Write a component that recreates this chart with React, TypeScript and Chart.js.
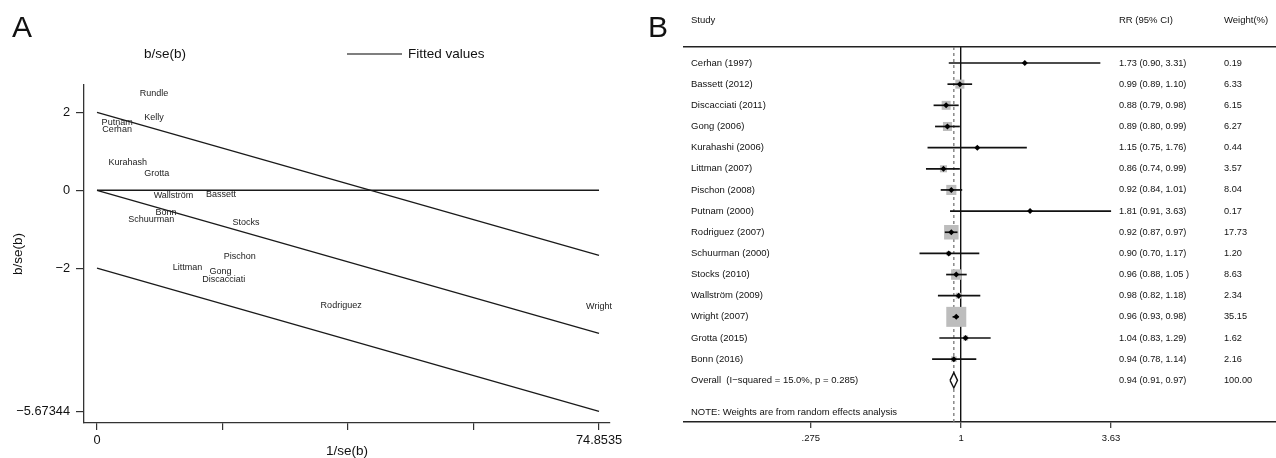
import React, { useEffect, useRef } from "react";
import { Chart, registerables } from "chart.js";

Chart.register(...registerables);

const FONT = "'Liberation Sans', Arial, sans-serif";

// ---------------- Panel A: Galbraith plot ----------------
const galbraithLabels = [
  "Rundle", "Kelly", "Putnam", "Cerhan", "Kurahash", "Grotta", "Wallström", "Bassett",
  "Bonn", "Schuurman", "Stocks", "Pischon", "Littman", "Gong", "Discacciati", "Rodriguez", "Wright",
];
// 1/se(b)
const galbraithPrecision = [8.5, 8.5, 3.0, 3.0, 4.6, 8.9, 11.4, 18.5, 10.3, 8.1, 22.2, 21.3, 13.5, 18.4, 18.9, 36.4, 74.8535];
// b/se(b)
const galbraithZ = [2.49, 1.86, 1.75, 1.57, 0.71, 0.42, -0.14, -0.11, -0.57, -0.74, -0.84, -1.70, -1.97, -2.09, -2.30, -2.95, -2.99];
const precisionMax = 74.8535;
const fittedAtMax = -3.67344;
const bandOffsets = [2, -2];
const yTickValuesA = [2, 0, -2, -5.67344];
const yTickLabelsA = ["2", "0", "\u22122", "\u22125.67344"];
const xTickValuesA = [0, 18.7134, 37.4268, 56.1401, 74.8535];
const xTickLabelsA = ["0", "", "", "", "74.8535"];

// ---------------- Panel B: forest plot ----------------
const studyNames = [
  "Cerhan (1997)", "Bassett (2012)", "Discacciati (2011)", "Gong (2006)", "Kurahashi (2006)",
  "Littman (2007)", "Pischon (2008)", "Putnam (2000)", "Rodriguez (2007)", "Schuurman (2000)",
  "Stocks (2010)", "Wallström (2009)", "Wright (2007)", "Grotta (2015)", "Bonn (2016)",
];
const rrValues = [1.73, 0.99, 0.88, 0.89, 1.15, 0.86, 0.92, 1.81, 0.92, 0.90, 0.96, 0.98, 0.96, 1.04, 0.94];
const ciLower = [0.90, 0.89, 0.79, 0.80, 0.75, 0.74, 0.84, 0.91, 0.87, 0.70, 0.88, 0.82, 0.93, 0.83, 0.78];
const ciUpper = [3.31, 1.10, 0.98, 0.99, 1.76, 0.99, 1.01, 3.63, 0.97, 1.17, 1.05, 1.18, 0.98, 1.29, 1.14];
const weightPct = [0.19, 6.33, 6.15, 6.27, 0.44, 3.57, 8.04, 0.17, 17.73, 1.20, 8.63, 2.34, 35.15, 1.62, 2.16];
const ciLabels = [
  "1.73 (0.90, 3.31)", "0.99 (0.89, 1.10)", "0.88 (0.79, 0.98)", "0.89 (0.80, 0.99)", "1.15 (0.75, 1.76)",
  "0.86 (0.74, 0.99)", "0.92 (0.84, 1.01)", "1.81 (0.91, 3.63)", "0.92 (0.87, 0.97)", "0.90 (0.70, 1.17)",
  "0.96 (0.88, 1.05 )", "0.98 (0.82, 1.18)", "0.96 (0.93, 0.98)", "1.04 (0.83, 1.29)", "0.94 (0.78, 1.14)",
];
const overallRR = 0.94;
const overallLower = 0.91;
const overallUpper = 0.97;
const overallCiLabel = "0.94 (0.91, 0.97)";
const overallWeight = 100.0;
const overallText = "Overall  (I\u2212squared = 15.0%, p = 0.285)";
const noteText = "NOTE: Weights are from random effects analysis";
const headerTexts = ["Study", "RR (95% CI)", "Weight(%)"];
const xTickValuesB = [0.275, 1, 3.63];
const xTickLabelsB = [".275", "1", "3.63"];

export default function App() {
  const refA = useRef<HTMLCanvasElement | null>(null);
  const refB = useRef<HTMLCanvasElement | null>(null);

  useEffect(() => {
    // ---------- Chart A ----------
    const labelPlugin = {
      id: "galbraithLabels",
      afterDatasetsDraw(chart: any) {
        const ctx = chart.ctx;
        const meta = chart.getDatasetMeta(0);
        ctx.save();
        ctx.font = `9px ${FONT}`;
        ctx.textAlign = "center";
        ctx.textBaseline = "middle";
        ctx.fillStyle = "#222";
        meta.data.forEach((el: any, i: number) => ctx.fillText(galbraithLabels[i], el.x, el.y));
        ctx.restore();
      },
      afterDraw(chart: any) {
        const ctx = chart.ctx;
        ctx.save();
        ctx.fillStyle = "#111";
        ctx.textBaseline = "alphabetic";
        ctx.textAlign = "left";
        ctx.font = `30px ${FONT}`;
        ctx.fillText("A", 12, 37);
        ctx.font = `13.5px ${FONT}`;
        ctx.textBaseline = "middle";
        ctx.fillText("b/se(b)", 144, 54);
        ctx.fillText("Fitted values", 408, 54);
        ctx.strokeStyle = "#555";
        ctx.lineWidth = 1.5;
        ctx.beginPath();
        ctx.moveTo(347, 54);
        ctx.lineTo(402, 54);
        ctx.stroke();
        ctx.restore();
      },
    };

    const lineStyle = {
      showLine: true,
      pointRadius: 0,
      borderColor: "#1a1a1a",
      borderWidth: 1.3,
      fill: false,
    };

    const dsA: any[] = [
      {
        label: "b/se(b)",
        data: galbraithPrecision.map((x, i) => ({ x, y: galbraithZ[i] })),
        pointRadius: 0,
        showLine: false,
      },
      { label: "zero", data: [{ x: 0, y: 0 }, { x: precisionMax, y: 0 }], ...lineStyle },
      { label: "Fitted values", data: [{ x: 0, y: 0 }, { x: precisionMax, y: fittedAtMax }], ...lineStyle },
      ...bandOffsets.map((off) => ({
        label: "band" + off,
        data: [{ x: 0, y: off }, { x: precisionMax, y: fittedAtMax + off }],
        ...lineStyle,
      })),
    ];

    const zeroPad = (s: any) => {
      s.paddingLeft = 0;
      s.paddingRight = 0;
      s.paddingTop = 0;
      s.paddingBottom = 0;
    };

    const chartA = new Chart(refA.current as HTMLCanvasElement, {
      type: "scatter",
      data: { datasets: dsA },
      plugins: [labelPlugin],
      options: {
        animation: false,
        responsive: false,
        events: [],
        layout: { autoPadding: false, padding: { left: 0, top: 85, right: 30, bottom: 0 } } as any,
        plugins: { legend: { display: false }, tooltip: { enabled: false } },
        scales: {
          x: {
            type: "linear",
            min: -1.94,
            max: 76.49,
            afterBuildTicks: (s: any) => {
              s.ticks = xTickValuesA.map((v) => ({ value: v }));
            },
            afterFit: (s: any) => {
              s.height = 35;
              zeroPad(s);
            },
            ticks: {
              autoSkip: false,
              maxRotation: 0,
              padding: 3,
              color: "#111",
              font: { family: FONT, size: 12.8 },
              callback: (_v: any, i: number) => xTickLabelsA[i],
            },
            grid: { display: true, drawOnChartArea: false, tickLength: 7, color: "#333", lineWidth: 1.2 },
            border: { display: true, color: "#333", width: 1.3 },
            title: {
              display: true,
              text: "1/se(b)",
              color: "#111",
              padding: 0,
              font: { family: FONT, size: 13.5, lineHeight: 1 },
            },
          },
          y: {
            type: "linear",
            min: -5.97,
            max: 2.7,
            afterBuildTicks: (s: any) => {
              s.ticks = yTickValuesA.map((v) => ({ value: v }));
            },
            afterFit: (s: any) => {
              s.width = 84;
              zeroPad(s);
            },
            ticks: {
              autoSkip: false,
              padding: 6,
              color: "#111",
              font: { family: FONT, size: 12.8 },
              callback: (_v: any, i: number) => yTickLabelsA[i],
            },
            grid: { display: true, drawOnChartArea: false, tickLength: 8, color: "#333", lineWidth: 1.2 },
            border: { display: true, color: "#333", width: 1.3 },
            title: {
              display: true,
              text: "b/se(b)",
              color: "#111",
              padding: { top: 10, bottom: 0 },
              font: { family: FONT, size: 13.5 },
            },
          },
        },
      } as any,
    });

    // ---------- Chart B ----------
    const ln = Math.log;
    const nStudies = studyNames.length;
    const rowOverall = nStudies;
    const rowNote = nStudies + 1.5;
    const rowHeader = -2;
    const yMinB = -0.757;
    const yMaxB = 16.97;
    const maxW = Math.max(...weightPct);

    const textPlugin = {
      id: "forestText",
      afterDraw(chart: any) {
        const ctx = chart.ctx;
        const ys = chart.scales.y;
        const left = chart.chartArea.left;
        const colName = left + 7;
        const colCI = left + 435;
        const colW = left + 540;
        ctx.save();
        ctx.fillStyle = "#111";
        ctx.textAlign = "left";
        ctx.textBaseline = "alphabetic";
        ctx.font = `30px ${FONT}`;
        ctx.fillText("B", 8, 37);
        ctx.textBaseline = "middle";
        ctx.font = `9.5px ${FONT}`;
        const yh = ys.getPixelForValue(rowHeader);
        ctx.fillText(headerTexts[0], colName, yh);
        ctx.fillText(headerTexts[1], colCI, yh);
        ctx.fillText(headerTexts[2], colW, yh);
        studyNames.forEach((name, i) => {
          const y = ys.getPixelForValue(i);
          ctx.font = `9.5px ${FONT}`;
          ctx.fillText(name, colName, y);
          ctx.font = `9.2px ${FONT}`;
          ctx.fillText(ciLabels[i], colCI, y);
          ctx.fillText(weightPct[i].toFixed(2), colW, y);
        });
        const yo = ys.getPixelForValue(rowOverall);
        ctx.font = `9.5px ${FONT}`;
        ctx.fillText(overallText, colName, yo);
        ctx.font = `9.2px ${FONT}`;
        ctx.fillText(overallCiLabel, colCI, yo);
        ctx.fillText(overallWeight.toFixed(2), colW, yo);
        ctx.font = `9.5px ${FONT}`;
        ctx.fillText(noteText, colName, ys.getPixelForValue(rowNote));
        ctx.restore();
      },
    };

    const dsB: any[] = [
      {
        label: "estimate",
        order: 1,
        data: rrValues.map((r, i) => ({ x: ln(r), y: i })),
        pointStyle: "rectRot",
        pointRadius: 3,
        pointBorderWidth: 0,
        backgroundColor: "#000",
        borderColor: "#000",
      },
      ...rrValues.map((_r, i) => ({
        label: "ci" + i,
        order: 2,
        data: [{ x: ln(ciLower[i]), y: i }, { x: ln(ciUpper[i]), y: i }],
        showLine: true,
        pointRadius: 0,
        borderColor: "#111",
        borderWidth: 1.7,
      })),
      {
        label: "overall",
        order: 2,
        data: [
          { x: ln(overallLower), y: rowOverall },
          { x: ln(overallRR), y: rowOverall - 0.36 },
          { x: ln(overallUpper), y: rowOverall },
          { x: ln(overallRR), y: rowOverall + 0.36 },
          { x: ln(overallLower), y: rowOverall },
        ],
        showLine: true,
        pointRadius: 0,
        borderColor: "#111",
        borderWidth: 1.4,
        backgroundColor: "#fff",
        fill: "shape",
      },
      {
        label: "weights",
        order: 3,
        data: rrValues.map((r, i) => ({ x: ln(r), y: i })),
        pointStyle: "rect",
        pointRadius: weightPct.map((w) => (1 + 19 * Math.sqrt(w / maxW)) / Math.SQRT2),
        pointBorderWidth: 0,
        backgroundColor: "#bdbdbd",
        borderColor: "#bdbdbd",
      },
      {
        label: "overallLine",
        order: 4,
        data: [{ x: ln(overallRR), y: yMinB }, { x: ln(overallRR), y: yMaxB }],
        showLine: true,
        pointRadius: 0,
        borderColor: "#777",
        borderWidth: 1.3,
        borderDash: [3, 3],
      },
    ];

    const xMinB = -2.38;
    const xMaxB = 2.706;

    const chartB = new Chart(refB.current as HTMLCanvasElement, {
      type: "scatter",
      data: { datasets: dsB },
      plugins: [textPlugin],
      options: {
        animation: false,
        responsive: false,
        events: [],
        layout: { autoPadding: false, padding: { left: 44, top: 47, right: 0, bottom: 0 } } as any,
        plugins: { legend: { display: false }, tooltip: { enabled: false } },
        scales: {
          x: {
            type: "linear",
            position: "bottom",
            min: xMinB,
            max: xMaxB,
            afterBuildTicks: (s: any) => {
              s.ticks = xTickValuesB.map((v) => ({ value: ln(v) }));
            },
            afterFit: (s: any) => {
              s.height = 36;
              zeroPad(s);
            },
            ticks: {
              autoSkip: false,
              maxRotation: 0,
              padding: 5,
              color: "#111",
              font: { family: FONT, size: 9.5 },
              callback: (_v: any, i: number) => xTickLabelsB[i],
            },
            grid: {
              display: true,
              drawOnChartArea: true,
              tickLength: 6,
              lineWidth: 1.4,
              color: (c: any) => (c.tick && Math.abs(c.tick.value) < 1e-9 ? "#111" : "rgba(0,0,0,0)"),
              tickColor: "#333",
              tickWidth: 1.2,
            },
            border: { display: true, color: "#222", width: 1.4 },
          },
          x2: {
            type: "linear",
            position: "top",
            min: xMinB,
            max: xMaxB,
            afterBuildTicks: (s: any) => {
              s.ticks = [];
            },
            afterFit: (s: any) => {
              s.height = 0;
              zeroPad(s);
            },
            ticks: { display: false },
            grid: { display: true, drawOnChartArea: false, drawTicks: false },
            border: { display: true, color: "#222", width: 1.4 },
          },
          y: {
            type: "linear",
            display: false,
            reverse: true,
            min: yMinB,
            max: yMaxB,
          },
        },
      } as any,
    });

    return () => {
      chartA.destroy();
      chartB.destroy();
    };
  }, []);

  return (
    <div
      style={{
        position: "fixed",
        left: 0,
        top: 0,
        width: 1276,
        height: 458,
        background: "#fff",
        overflow: "hidden",
      }}
    >
      <canvas
        ref={refA}
        width={640}
        height={458}
        style={{ position: "absolute", left: 0, top: 0, width: 640, height: 458 }}
      />
      <canvas
        ref={refB}
        width={636}
        height={458}
        style={{ position: "absolute", left: 640, top: 0, width: 636, height: 458 }}
      />
    </div>
  );
}
